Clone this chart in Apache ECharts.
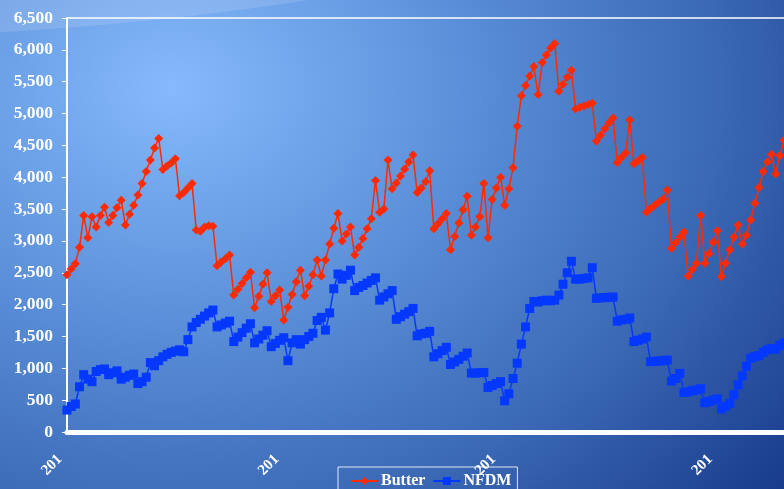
<!DOCTYPE html>
<html>
<head>
<meta charset="utf-8">
<script src="https://cdn.jsdelivr.net/npm/echarts@6/dist/echarts.min.js"></script>
<style>
  html, body { margin:0; padding:0; }
  #wrap { position:relative; width:784px; height:489px; overflow:hidden;
    background: radial-gradient(ellipse 1000px 800px at 22% 18%, #86bafc 0%, #5a8ed8 30%, #3a68b5 55%, #17398a 80%, #0a2a6e 100%); }
  #swoosh { position:absolute; left:-1450px; top:-840px; width:2500px; height:878px; border-radius:50%;
    background: rgba(255,255,255,0.13); }
  #chart { position:absolute; left:0; top:0; width:784px; height:489px; }
</style>
</head>
<body>
<div id="wrap"><div id="swoosh"></div><div id="chart"></div></div>
<script>
const seriesNames = ['Butter', 'NFDM'];
const tickLabels = ['201', '201', '201', '201'];
const labelEvery = 52;
const butter = [
2470,2560,2640,2900,3400,3050,3380,3220,3400,3530,
3290,3400,3520,3640,3250,3420,3560,3720,3900,4090,
4270,4460,4610,4120,4175,4225,4290,3710,3760,3830,
3900,3170,3150,3220,3240,3230,2610,2670,2720,2780,
2150,2240,2330,2420,2510,1950,2130,2320,2500,2050,
2140,2230,1760,1960,2160,2360,2540,2140,2290,2470,
2700,2450,2700,2950,3200,3430,3000,3110,3220,2780,
2900,3040,3190,3350,3950,3450,3500,4270,3820,3910,
4020,4130,4240,4350,3760,3830,3930,4100,3190,3270,
3350,3430,2860,3070,3280,3490,3700,3090,3220,3380,
3900,3050,3650,3830,4000,3560,3820,4150,4800,5280,
5440,5590,5740,5300,5800,5920,6030,6100,5350,5460,
5570,5680,5070,5100,5120,5140,5160,4570,4660,4760,
4850,4930,4230,4310,4380,4900,4210,4260,4310,3450,
3510,3560,3610,3660,3800,2880,2970,3060,3140,2450,
2550,2650,3400,2650,2800,2980,3160,2440,2650,2860,
3060,3250,2950,3090,3330,3590,3840,4090,4240,4360,
4050,4340,4580
];
const nfdm = [
345,400,440,710,900,830,790,950,980,990,
900,930,960,830,860,890,910,760,790,860,
1090,1040,1120,1180,1220,1250,1270,1290,1260,1450,
1650,1720,1770,1820,1870,1915,1650,1680,1710,1740,
1420,1490,1560,1630,1700,1400,1460,1520,1590,1340,
1390,1440,1480,1120,1400,1450,1380,1450,1500,1550,
1750,1800,1600,1870,2250,2480,2400,2460,2540,2220,
2270,2300,2340,2380,2420,2070,2120,2170,2220,1770,
1810,1850,1890,1940,1510,1540,1550,1580,1180,1230,
1280,1330,1060,1100,1140,1190,1240,925,925,930,
935,700,730,760,790,490,600,840,1080,1380,
1650,1940,2050,2040,2060,2070,2060,2070,2150,2320,
2500,2680,2400,2400,2410,2420,2580,2100,2105,2110,
2115,2120,1740,1760,1770,1790,1420,1440,1460,1490,
1105,1110,1115,1120,1130,800,840,920,620,630,
650,660,680,460,480,500,520,360,400,450,
585,740,880,1030,1160,1180,1200,1250,1290,1310,
1300,1360,1400
];
const categories = butter.map((_, i) => 'p' + i);

const font = 'Liberation Serif, Times New Roman, serif';
const chart = echarts.init(document.getElementById('chart'), null, { renderer: 'canvas' });
chart.setOption({
  animation: false,
  backgroundColor: 'transparent',
  grid: { left: 67, top: 18, right: 0, bottom: 57 },
  legend: {
    data: seriesNames,
    left: 338, top: 467,
    padding: [6, 6, 10, 12],
    itemGap: 7, itemWidth: 27, itemHeight: 10,
    borderColor: 'rgba(255,255,255,0.85)', borderWidth: 1,
    textStyle: { color: '#ffffff', fontWeight: 'bold', fontFamily: font, fontSize: 16, padding: [0, 0, 0, -2] }
  },
  xAxis: [{
    type: 'category', data: categories, boundaryGap: false,
    axisLine: { lineStyle: { color: '#ffffff', width: 5 } },
    axisTick: { show: false },
    axisLabel: {
      interval: labelEvery - 1, rotate: 45, margin: 18, padding: [0, 10, 0, 0],
      color: '#ffffff', fontWeight: 'bold', fontFamily: font, fontSize: 15,
      formatter: (v, idx) => tickLabels[Math.round(idx / labelEvery)] || ''
    },
    splitLine: { show: false }
  }, {
    type: 'category', data: categories, boundaryGap: false, position: 'top',
    axisLine: { lineStyle: { color: '#ffffff', width: 1.5 } },
    axisTick: { show: false }, axisLabel: { show: false }, splitLine: { show: false }
  }],
  yAxis: {
    type: 'value', min: 0, max: 6500, interval: 500,
    axisLine: { show: true, lineStyle: { color: '#ffffff', width: 2 } },
    axisTick: { show: true, length: 5, lineStyle: { color: '#ffffff', width: 1 } },
    axisLabel: {
      margin: 14, color: '#ffffff', fontWeight: 'bold', fontFamily: font, fontSize: 17.5,
      formatter: v => v.toLocaleString('en-US')
    },
    splitLine: { show: false }
  },
  series: [{
    name: seriesNames[0], type: 'line', data: butter,
    symbol: 'diamond', symbolSize: 9, showAllSymbol: true,
    itemStyle: { color: '#ff2a00' },
    lineStyle: { color: '#ff2a00', width: 1.5 }
  }, {
    name: seriesNames[1], type: 'line', data: nfdm,
    symbol: 'rect', symbolSize: 9, showAllSymbol: true,
    itemStyle: { color: '#0538ff' },
    lineStyle: { color: '#0538ff', width: 1.5 }
  }]
});
</script>
</body>
</html>
